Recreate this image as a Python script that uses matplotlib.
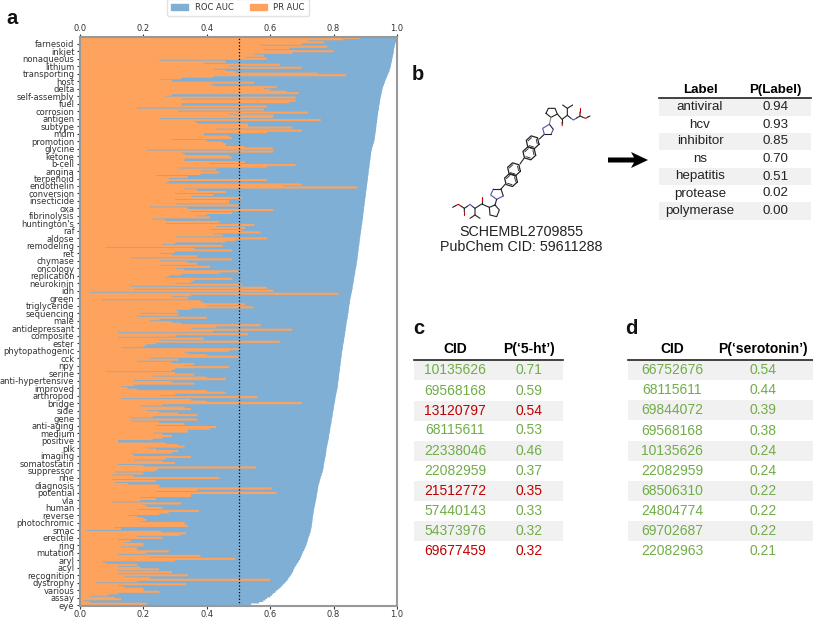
import matplotlib
matplotlib.use("Agg")
import matplotlib.pyplot as plt
import numpy as np
from matplotlib.patches import Patch, Rectangle, Polygon

# one tick label every 5 bars, listed from the top of the panel down
labels = ["farnesoid", "inkjet", "nonaqueous", "lithium", "transporting", "host", "delta",
          "self-assembly", "fuel", "corrosion", "antigen", "subtype", "mdm", "promotion",
          "glycine", "ketone", "b-cell", "angina", "terpenoid", "endothelin", "conversion",
          "insecticide", "oxa", "fibrinolysis", "huntington's", "raf", "aldose", "remodeling",
          "ret", "chymase", "oncology", "replication", "neurokinin", "idh", "green",
          "triglyceride", "sequencing", "male", "antidepressant", "composite", "ester",
          "phytopathogenic", "cck", "npy", "serine", "anti-hypertensive", "improved",
          "arthropod", "bridge", "side", "gene", "anti-aging", "medium", "positive", "plk",
          "imaging", "somatostatin", "suppressor", "nhe", "diagnosis", "potential", "vla",
          "human", "reverse", "photochromic", "smac", "erectile", "ring", "mutation", "aryl",
          "acyl", "recognition", "dystrophy", "various", "assay", "eye"]

# values, 5 bars per label, top to bottom
roc_auc = [
    1.000, .999, .998, .996, .994,  .993, .992, .991, .990, .990,
    .989, .988, .987, .986, .985,  .984, .983, .982, .981, .980,
    .979, .977, .976, .974, .972,  .970, .968, .966, .964, .962,
    .961, .959, .957, .955, .954,  .953, .952, .951, .950, .949,
    .948, .947, .946, .946, .945,  .944, .943, .943, .942, .941,
    .940, .940, .939, .938, .938,  .937, .937, .936, .935, .935,
    .934, .934, .933, .932, .932,  .931, .930, .930, .929, .928,
    .927, .925, .924, .922, .921,  .920, .919, .918, .918, .917,
    .916, .916, .915, .914, .914,  .913, .913, .912, .911, .911,
    .910, .910, .909, .908, .908,  .907, .907, .906, .905, .905,
    .904, .904, .903, .902, .902,  .901, .901, .900, .899, .899,
    .898, .898, .897, .896, .896,  .895, .895, .894, .893, .893,
    .892, .892, .891, .890, .890,  .889, .888, .888, .887, .886,
    .886, .885, .884, .884, .883,  .882, .882, .881, .881, .880,
    .879, .879, .878, .878, .877,  .876, .876, .875, .875, .874,
    .873, .872, .872, .871, .870,  .869, .868, .868, .867, .866,
    .865, .864, .864, .863, .862,  .861, .860, .860, .859, .858,
    .857, .856, .855, .854, .853,  .852, .851, .851, .850, .849,
    .848, .848, .847, .847, .846,  .845, .844, .844, .843, .842,
    .841, .840, .840, .839, .838,  .838, .837, .836, .836, .835,
    .834, .833, .833, .832, .831,  .830, .829, .829, .828, .827,
    .826, .826, .825, .825, .824,  .823, .823, .822, .822, .821,
    .820, .820, .819, .819, .818,  .817, .817, .816, .816, .815,
    .814, .814, .813, .813, .812,  .811, .810, .809, .808, .807,
    .806, .805, .805, .804, .803,  .802, .801, .801, .800, .799,
    .798, .797, .797, .796, .795,  .794, .793, .793, .792, .791,
    .790, .789, .789, .788, .787,  .786, .785, .785, .784, .783,
    .782, .781, .780, .779, .778,  .777, .777, .776, .776, .775,
    .774, .773, .772, .771, .770,  .769, .769, .768, .767, .766,
    .765, .763, .762, .760, .759,  .757, .756, .755, .753, .752,
    .751, .750, .750, .749, .748,  .747, .746, .746, .745, .744,
    .743, .742, .741, .740, .739,  .738, .737, .737, .736, .735,
    .734, .734, .733, .733, .732,  .731, .731, .730, .729, .728,
    .727, .725, .724, .722, .720,  .719, .718, .716, .715, .713,
    .711, .709, .707, .704, .702,  .700, .698, .696, .694, .691,
    .688, .685, .682, .679, .676,  .674, .672, .670, .667, .664,
    .660, .657, .654, .650, .645,  .641, .636, .632, .626, .620,
    .616, .610, .605, .600, .590,  .585, .578, .565, .540, .520]

pr_auc = [
    .88, .83, .72, .77, .70,  .57, .78, .66, .58, .80,
    .67, .55, .58, .52, .59,  .25, .46, .39, .63, .47,
    .70, .42, .46, .49, .75,  .84, .42, .32, .25, .29,
    .55, .41, .42, .62, .58,  .60, .65, .69, .29, .27,
    .68, .32, .68, .66, .32,  .32, .59, .18, .58, .31,
    .72, .47, .61, .61, .25,  .76, .36, .37, .53, .53,
    .67, .43, .70, .59, .39,  .39, .47, .48, .29, .40,
    .45, .46, .46, .52, .61,  .21, .61, .32, .33, .47,
    .48, .33, .33, .52, .41,  .68, .59, .31, .43, .38,
    .44, .38, .24, .34, .28,  .59, .28, .27, .70, .64,
    .875, .33, .37, .46, .30,  .42, .35, .51, .30, .47,
    .47, .30, .50, .22, .34,  .61, .35, .48, .40, .37,
    .41, .23, .27, .44, .27,  .55, .43, .52, .41, .51,
    .57, .42, .45, .30, .59,  .49, .46, .30, .26, .45,
    .08, .36, .48, .30, .25,  .29, .37, .16, .48, .25,
    .34, .37, .25, .41, .30,  .33, .50, .44, .32, .28,
    .27, .48, .36, .35, .30,  .51, .16, .59, .17, .61,
    .03, .815, .35, .29, .34,  .07, .38, .39, .52, .40,
    .545, .35, .30, .31, .19,  .31, .18, .40, .25, .22,
    .29, .32, .57, .43, .35,  .67, .42, .12, .53, .30,
    .12, .39, .25, .63, .24,  .21, .20, .13, .50, .47,
    .33, .34, .40, .50, .22,  .31, .18, .29, .36, .33,
    .47, .30, .29, .08, .30,  .36, .23, .40, .46, .17,
    .29, .36, .17, .13, .15,  .18, .40, .46, .30, .25,
    .56, .13, .35, .40, .70,  .26, .19, .33, .35, .21,
    .25, .31, .37, .23, .16,  .37, .16, .25, .33, .24,
    .43, .41, .34, .34, .23,  .26, .29, .26, .23, .12,
    .12, .27, .31, .33, .21,  .24, .31, .29, .16, .17,
    .35, .27, .17, .26, .30,  .12, .20, .555, .245, .24,
    .11, .20, .10, .17, .44,  .10, .24, .11, .15, .25,
    .25, .605, .37, .24, .62,  .35, .35, .19, .24, .19,
    .10, .32, .20, .21, .26,  .18, .375, .28, .25, .15,
    .18, .20, .21, .19, .33,  .33, .34, .11, .13, .02,
    .255, .335, .315, .18, .26,  .12, .16, .14, .20, .20,
    .13, .18, .18, .28, .21,  .12, .38, .22, .49, .30,
    .07, .08, .18, .12, .19,  .25, .12, .29, .12, .34,
    .14, .22, .60, .18, .05,  .335, .12, .14, .20, .20,
    .25, .12, .09, .03, .11,  .13, .01, .03, .21, .01]

b_labels = ["antiviral", "hcv", "inhibitor", "ns", "hepatitis", "protease", "polymerase"]
b_probs = ["0.94", "0.93", "0.85", "0.70", "0.51", "0.02", "0.00"]

c_cids = ["10135626", "69568168", "13120797", "68115611", "22338046",
          "22082959", "21512772", "57440143", "54373976", "69677459"]
c_probs = ["0.71", "0.59", "0.54", "0.53", "0.46", "0.37", "0.35", "0.33", "0.32", "0.32"]
c_red = ["13120797", "21512772", "69677459"]

d_cids = ["66752676", "68115611", "69844072", "69568168", "10135626",
          "22082959", "68506310", "24804774", "69702687", "22082963"]
d_probs = ["0.54", "0.44", "0.39", "0.38", "0.24", "0.24", "0.22", "0.22", "0.22", "0.21"]

BLUE = "#7fafd4"
ORANGE = "#ffa35c"
GREEN = "#70ad47"
RED = "#c00000"
BAND = "#f1f1f1"
W, H = 813, 619

fig = plt.figure(figsize=(W / 100, H / 100), dpi=100)

# panel a, bars a bit taller than their slot so no seams show between them
ax = fig.add_axes([80 / W, 1 - 606 / H, 317 / W, 569 / H])
rows = np.arange(len(roc_auc))
blue_bars = ax.barh(rows, roc_auc, height=1.6, color=BLUE, linewidth=0)
orange_bars = ax.barh(rows, pr_auc, height=1.4, color=ORANGE, linewidth=0)
for b in list(blue_bars) + list(orange_bars):
    b.set_snap(False)
ax.axvline(0.5, color="black", linestyle=":", linewidth=0.9)
ax.set_xlim(0, 1)
ax.set_ylim(len(rows) - 0.5, -0.5)
ax.set_yticks(rows[4::5])
ax.set_yticklabels(labels)
ax.set_xticks(np.arange(0, 1.01, 0.2))
ax.tick_params(axis="x", top=True, labeltop=True, labelsize=6, length=2, width=0.8,
               pad=1.2, colors="#333333")
ax.tick_params(axis="y", labelsize=6, length=2.5, width=0.8, pad=1.5, colors="#333333")
for s in ax.spines.values():
    s.set_color("#999999")
    s.set_linewidth(1.5)
ax.legend(handles=[Patch(color=BLUE, label="ROC AUC"), Patch(color=ORANGE, label="PR AUC")],
          ncol=2, fontsize=6, loc="upper center", bbox_to_anchor=(238 / W, 1.002),
          bbox_transform=fig.transFigure, borderaxespad=0, columnspacing=2.0, borderpad=0.5,
          labelcolor="#333333", edgecolor="#dddddd")

# everything else sits on an overlay in pixel coordinates
ov = fig.add_axes([0, 0, 1, 1], facecolor="none")
ov.set_xlim(0, W)
ov.set_ylim(H, 0)
ov.axis("off")
plt.rcParams["font.family"] = ["Liberation Sans", "DejaVu Sans"]


def panel_letter(x, y, s):
    ov.text(x, y, s, fontsize=14.5, fontweight="bold", ha="center", va="center",
            family="Liberation Sans", color="#111111")


def table(x0, x1, col1, col2, head, head_y, line_y, row_ys, band_h, col_a, col_b, colors, size):
    ov.text(col1, head_y, head[0], fontsize=size, fontweight="bold", ha="center", va="center")
    ov.text(col2, head_y, head[1], fontsize=size, fontweight="bold", ha="center", va="center")
    ov.plot([x0, x1], [line_y, line_y], color="#222222", lw=1.2)
    for i, y in enumerate(row_ys):
        if i % 2 == 0:
            ov.add_patch(Rectangle((x0, y - band_h / 2), x1 - x0, band_h, color=BAND, lw=0))
        ov.text(col1, y, col_a[i], fontsize=size, ha="center", va="center", color=colors[i])
        ov.text(col2, y, col_b[i], fontsize=size, ha="center", va="center", color=colors[i])


panel_letter(12, 18, "a")
panel_letter(418, 74, "b")
panel_letter(419, 328, "c")
panel_letter(631, 328, "d")

table(659, 811, 700, 775.5, ["Label", "P(Label)"], 90, 97.5,
      [107, 124.5, 141.5, 159, 176.5, 193.5, 211], 17.2, b_labels, b_probs,
      ["#222222"] * 7, 9.6)
table(414, 562.5, 455, 529, ["CID", "P(‘5-ht’)"], 349, 359.5,
      [370, 391, 411, 430, 451, 471, 491, 511, 531, 551], 19.6, c_cids, c_probs,
      [RED if c in c_red else GREEN for c in c_cids], 10)
table(628, 813, 672, 763, ["CID", "P(‘serotonin’)"], 349, 359.5,
      [370, 390, 410, 431, 451, 471, 491, 511, 531, 551], 19.6, d_cids, d_probs,
      [GREEN] * 10, 10)

# arrow between molecule and table
ov.add_patch(Polygon([(608, 157.5), (634, 157.5), (631, 152), (648, 160), (631, 168),
                      (634, 162.5), (608, 162.5)], color="black", lw=0))

ov.text(521, 232, "SCHEMBL2709855", fontsize=10.3, ha="center", va="center", color="#222222")
ov.text(521, 247, "PubChem CID: 59611288", fontsize=10.3, ha="center", va="center", color="#222222")


# molecule
def mol_xy(pts):
    return [440 + p[0] / 3 for p in pts], [90 + p[1] / 3 for p in pts]


def bond(pts, color="#222222", lw=0.8):
    xs, ys = mol_xy(pts)
    ov.plot(xs, ys, color=color, lw=lw, solid_capstyle="round")


def hexagon(cx, cy, r=20):
    ang = np.radians(np.arange(0, 361, 60) + 17)
    pts = list(zip(cx + r * np.cos(ang), cy + r * np.sin(ang)))
    bond(pts, lw=0.9)
    inner = list(zip(cx + 0.72 * r * np.cos(ang), cy + 0.72 * r * np.sin(ang)))
    for k in (1, 3, 5):
        bond([inner[k], inner[k + 1]], lw=0.6)


NAVY = "#4a55b0"
for c in [(278, 157), (268, 190), (222, 238), (213, 270)]:
    hexagon(*c)
bond([(298, 147), (313, 133)])
bond([(252, 205), (240, 222)])
bond([(196, 282), (183, 297)])
# top end
bond([(318, 70), (325, 55), (345, 55), (352, 72), (333, 82), (318, 70)])
bond([(352, 72), (366, 88), (382, 76), (382, 55), (368, 45)])
bond([(382, 55), (398, 45)])
bond([(366, 88), (366, 98)])
bond([(366, 98), (367, 107)], RED)
bond([(382, 76), (392, 84)])
bond([(392, 84), (400, 90), (410, 84)], NAVY)
bond([(410, 84), (420, 78), (420, 66)])
bond([(420, 66), (420, 55)], RED)
bond([(420, 78), (429, 82)])
bond([(429, 82), (437, 85), (444, 81)], RED)
bond([(444, 81), (450, 78)])
bond([(333, 82), (328, 103)], "#888888")
bond([(328, 103), (340, 118)])
bond([(340, 118), (333, 133)], NAVY)
bond([(333, 133), (313, 133)])
bond([(313, 133), (308, 115), (328, 103)], NAVY)
# bottom end
bond([(183, 297), (190, 318)])
bond([(190, 318), (170, 328)], NAVY)
bond([(170, 328), (152, 315), (160, 297)], NAVY)
bond([(160, 297), (183, 297)])
bond([(170, 328), (165, 345)])
bond([(165, 345), (148, 352), (150, 375), (170, 380), (178, 360), (165, 345)])
bond([(148, 352), (125, 342), (105, 355), (105, 375), (90, 385)])
bond([(105, 375), (120, 385)])
bond([(125, 342), (125, 332)])
bond([(125, 332), (125, 322)], RED)
bond([(105, 355), (97, 349)])
bond([(97, 349), (90, 343), (82, 349)], NAVY)
bond([(82, 349), (73, 355), (73, 365)])
bond([(73, 365), (73, 375)], RED)
bond([(73, 355), (64, 349)])
bond([(64, 349), (55, 343), (47, 347)], RED)
bond([(47, 347), (38, 352)])

fig.savefig("out.png", dpi=100)
